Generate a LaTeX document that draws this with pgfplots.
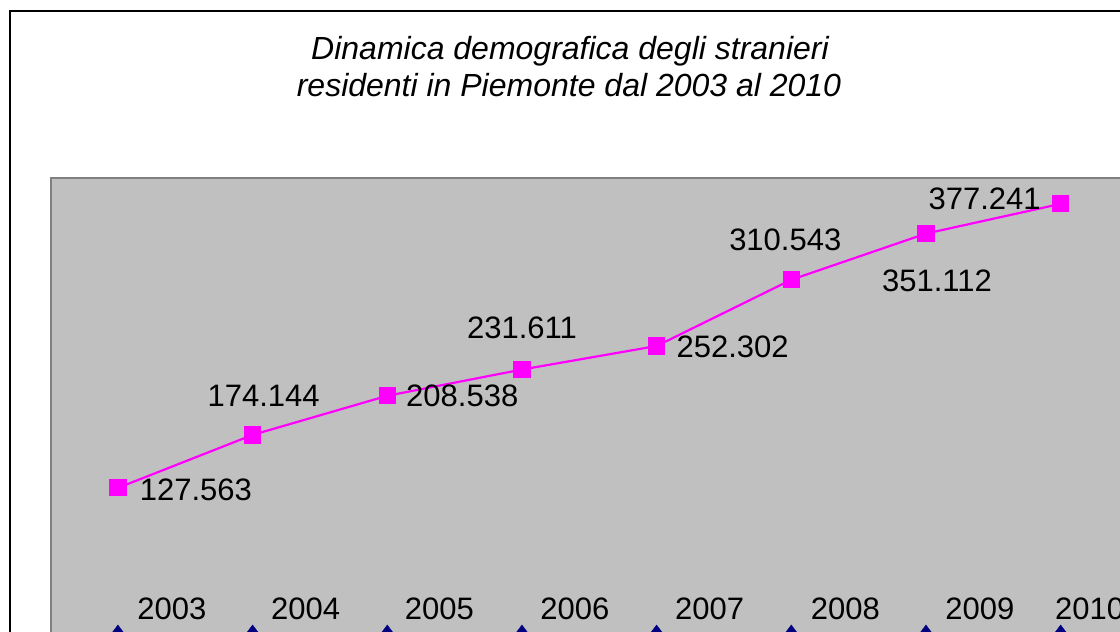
\documentclass[border=0pt]{standalone}
\usepackage{pgfplots}
\pgfplotsset{compat=1.18}
\usepackage{pgfplotstable}
\usepackage{fontspec}
\setmainfont{Liberation Sans}
\definecolor{plotgray}{HTML}{C0C0C0}
\definecolor{bordergray}{HTML}{808080}
\definecolor{mag}{HTML}{FF00FF}
\definecolor{navy}{HTML}{000080}

\pgfplotstableread{
year value label dx dy
2003 127563 127.563 78 -2
2004 174144 174.144 11 39
2005 208538 208.538 75 0
2006 231611 231.611 0 42
2007 252302 252.302 76 -1
2008 310543 310.543 -6 40
2009 351112 351.112 11 -47
2010 377241 377.241 -76 5
}\stranieri

\pgfplotstableread{
year value label dx dy
2003 0 2003 54 24
2004 0 2004 53 24
2005 0 2005 52 24
2006 0 2006 53 24
2007 0 2007 53 24
2008 0 2008 54 24
2009 0 2009 54 24
2010 0 2010 29 24
}\anni

\begin{document}
\begin{tikzpicture}[x=1pt,y=1pt]
\useasboundingbox (0,0) rectangle (1120,632);
\clip (0,0) rectangle (1120,632);
\fill[white] (0,0) rectangle (1120,632);
\draw[black, line width=1.5pt] (10,621) rectangle (1300,-100);
\node[anchor=base, font=\fontsize{32}{38}\selectfont\itshape] at (570,572) {Dinamica demografica degli stranieri};
\node[anchor=base, font=\fontsize{32}{38}\selectfont\itshape] at (569,535) {residenti in Piemonte dal 2003 al 2010};
\begin{axis}[
  at={(50.6pt,-1pt)}, anchor=south west,
  scale only axis, width=1077.4pt, height=455pt,
  xmin=2002.5, xmax=2010.5, ymin=0, ymax=400000,
  axis background/.style={fill=plotgray},
  axis line style={draw=bordergray, line width=2pt},
  xtick=\empty, ytick=\empty,
  clip=false,
  every node near coord/.append style={font=\fontsize{31}{36}\selectfont, black, anchor=center, xshift=\dx pt, yshift=\dy pt},
  nodes near coords={\pgfplotspointmeta},
  point meta=explicit symbolic,
  visualization depends on={\thisrow{dx} \as \dx},
  visualization depends on={\thisrow{dy} \as \dy},
]
\addplot[mag, line width=2.2pt, mark=square*, mark size=7.5pt, mark options={solid, fill=mag, draw=mag}]
  table[x=year, y=value, meta=label] {\stranieri};
\addplot[only marks, mark=diamond*, mark size=8pt, mark options={fill=navy, draw=navy}]
  table[x=year, y=value, meta=label] {\anni};
\end{axis}
\end{tikzpicture}
\end{document}
